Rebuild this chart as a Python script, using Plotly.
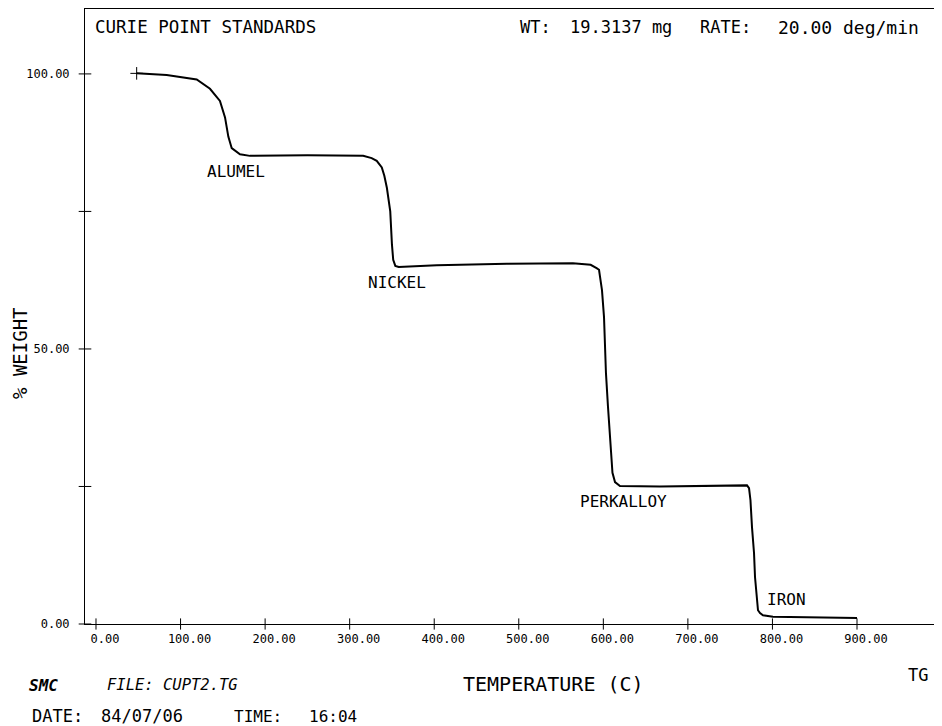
import plotly.graph_objects as go

# ---------------- data ----------------
temperature_c = [48.1, 83.6, 119.1, 134.8, 146.6, 152.6, 156.5, 160.5, 170.3, 182.1,
                 250.0, 300.0, 316.0, 326.0, 332.0, 338.0, 341.0, 344.0, 346.0, 348.0,
                 350.0, 351.5, 354.0, 358.0, 403.0, 486.0, 564.0, 585.0, 592.0, 594.9,
                 596.1, 598.4, 600.8, 603.1, 605.5, 607.8, 609.0, 610.8, 613.8, 619.7,
                 667.0, 720.0, 769.9, 772.3, 774.0, 775.8, 778.2, 779.4, 781.7, 782.9,
                 785.3, 788.8, 800.6, 832.6, 868.0, 900.0]
weight_pct = [100.1, 99.8, 99.0, 97.3, 95.1, 92.1, 88.6, 86.5, 85.4, 85.1,
              85.2, 85.2, 85.1, 84.7, 84.2, 83.0, 81.5, 79.3, 77.5, 75.0,
              69.0, 66.2, 65.1, 64.9, 65.2, 65.5, 65.6, 65.3, 64.7, 64.4,
              63.1, 60.7, 55.8, 45.6, 39.5, 33.5, 30.4, 27.5, 25.8, 25.1,
              25.0, 25.1, 25.2, 24.7, 22.5, 17.6, 12.9, 8.5, 4.4, 2.5,
              2.0, 1.6, 1.3, 1.2, 1.1, 1.1]

x_tick_values = [0, 100, 200, 300, 400, 500, 600, 700, 800, 900]
x_tick_labels = ["0.00", "100.00", "200.00", "300.00", "400.00", "500.00",
                 "600.00", "700.00", "800.00", "900.00"]
y_tick_values = [0, 25, 50, 75, 100]
y_tick_labels = ["0.00", "", "50.00", "", "100.00"]

standard_names = ["ALUMEL", "NICKEL", "PERKALLOY", "IRON"]
standard_label_temps = [166, 356, 624, 817]
standard_label_weights = [82.2, 62.0, 22.2, 4.5]

header_texts = ["CURIE POINT STANDARDS", "WT:", "19.3137 mg", "RATE:", "20.00 deg/min"]
footer_texts = ["<b><i>SMC</i></b>", "<i>FILE: CUPT2.TG</i>", "DATE:", "84/07/06", "TIME:", "16:04"]
x_title = "TEMPERATURE (C)"
y_title = "% WEIGHT"
corner_text = "TG"

# ---------------- layout geometry ----------------
# the page body has an 8px margin, so the figure sits at (8, 8) in the window
OFF = 8
W, H = 942 - OFF, 726 - OFF
# plot area in page pixels
PL, PR, PT, PB = 85, 937, 9, 624
X_RANGE = [-13.0, 994.6]
Y_RANGE = [0, 111.8]
FONT = "DejaVu Sans Mono"


def px(xp):
    return (xp - PL) / (PR - PL)


def py(yp):
    return (PB - yp) / (PB - PT)


fig = go.Figure()
fig.add_trace(go.Scatter(x=temperature_c, y=weight_pct, mode="lines",
                         line=dict(color="black", width=2),
                         showlegend=False, hoverinfo="skip"))
# "+" at the start of the run
fig.add_trace(go.Scatter(x=temperature_c[:1], y=weight_pct[:1], mode="markers",
                         marker=dict(symbol="cross-thin-open", size=9, color="black",
                                     line=dict(color="black", width=1)),
                         showlegend=False, hoverinfo="skip"))
# plotter-style "+" ticks crossing the axes
fig.add_trace(go.Scatter(x=x_tick_values, y=[Y_RANGE[0]] * len(x_tick_values),
                         mode="markers", cliponaxis=False,
                         marker=dict(symbol="line-ns", size=8, color="black",
                                     line=dict(color="black", width=1)),
                         showlegend=False, hoverinfo="skip"))
fig.add_trace(go.Scatter(x=[X_RANGE[0]] * len(y_tick_values), y=y_tick_values,
                         mode="markers", cliponaxis=False,
                         marker=dict(symbol="line-ew", size=9, color="black",
                                     line=dict(color="black", width=1)),
                         showlegend=False, hoverinfo="skip"))

axis_font = dict(family=FONT, size=12, color="black")

fig.update_layout(
    width=W, height=H,
    margin=dict(l=PL - OFF, r=W - (PR - OFF), t=PT - OFF, b=H - (PB - OFF), pad=0),
    paper_bgcolor="white", plot_bgcolor="white",
    font=dict(family=FONT, color="black"),
    xaxis=dict(range=X_RANGE, tickvals=x_tick_values, ticktext=x_tick_labels,
               ticks="", showline=True, linecolor="black", linewidth=1, mirror=True,
               showgrid=False, zeroline=False, tickfont=axis_font,
               ticklabelshift=9, ticklabelstandoff=4),
    yaxis=dict(range=Y_RANGE, tickvals=y_tick_values, ticktext=y_tick_labels,
               ticks="", showline=True, linecolor="black", linewidth=1, mirror=True,
               showgrid=False, zeroline=False, tickfont=axis_font,
               ticklabelstandoff=12),
)

annotations = []
for name, tx, wy in zip(standard_names, standard_label_temps, standard_label_weights):
    annotations.append(dict(x=tx, y=wy, xref="x", yref="y", text=name, showarrow=False,
                            xanchor="center", yanchor="middle",
                            font=dict(family=FONT, size=16, color="black")))

annotations.append(dict(x=px(93), y=py(27), xref="paper", yref="paper", text=header_texts[0],
                        showarrow=False, xanchor="left", yanchor="middle",
                        font=dict(family=FONT, size=17.5, color="black")))
header_x = [518, 568, 698, 776]
header_size = [17, 17, 17, 18]
for txt, xp, fs in zip(header_texts[1:], header_x, header_size):
    annotations.append(dict(x=px(xp), y=py(27), xref="paper", yref="paper", text=txt,
                            showarrow=False, xanchor="left", yanchor="middle",
                            font=dict(family=FONT, size=fs, color="black")))

footer_pos = [(27, 685, 16), (105, 685, 15.5), (30, 716, 17), (99, 716, 17), (232, 716, 16), (307, 716, 16)]
for txt, (xp, yp, fs) in zip(footer_texts, footer_pos):
    annotations.append(dict(x=px(xp), y=py(yp), xref="paper", yref="paper", text=txt,
                            showarrow=False, xanchor="left", yanchor="middle",
                            font=dict(family=FONT, size=fs, color="black")))

annotations.append(dict(x=px(553), y=py(684), xref="paper", yref="paper", text=x_title,
                        showarrow=False, xanchor="center", yanchor="middle",
                        font=dict(family=FONT, size=20, color="black")))
annotations.append(dict(x=px(918), y=py(675), xref="paper", yref="paper", text=corner_text,
                        showarrow=False, xanchor="center", yanchor="middle",
                        font=dict(family=FONT, size=17, color="black")))
annotations.append(dict(x=px(20), y=py(353), xref="paper", yref="paper", text=y_title,
                        showarrow=False, xanchor="center", yanchor="middle", textangle=-90,
                        font=dict(family=FONT, size=19, color="black")))

fig.update_layout(annotations=annotations)

fig.write_html("out.html", config={"displayModeBar": False})
